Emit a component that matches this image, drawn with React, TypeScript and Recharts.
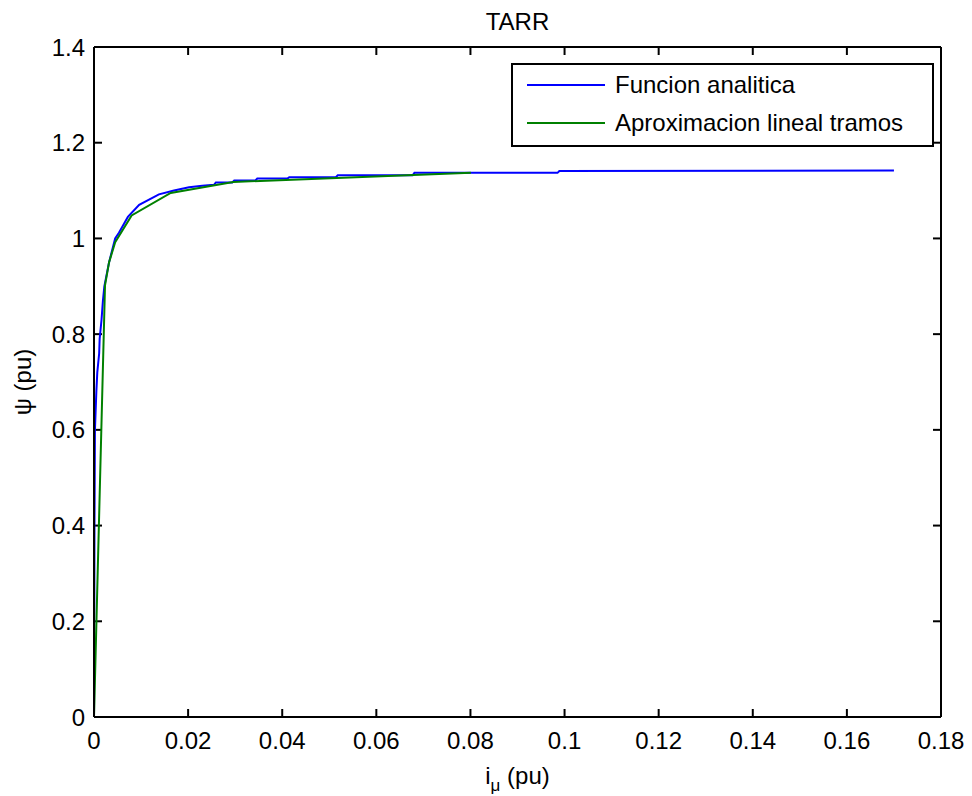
import React from 'react';
import { LineChart, Line, XAxis, YAxis, Legend, ReferenceLine } from 'recharts';

// i_mu (pu) / psi (pu) for the analytic curve (stair-stepped as in the plot)
const iMuAnalytic = [
  0, 0.00005, 0.0001, 0.0002, 0.0005, 0.0007, 0.0011, 0.0012, 0.0016, 0.0019,
  0.0022, 0.0032, 0.0045, 0.0053, 0.0072, 0.0096, 0.0138, 0.017, 0.0202, 0.023,
  0.0255, 0.0259, 0.0294, 0.0298, 0.0343, 0.0347, 0.0411, 0.0415, 0.0514, 0.0518,
  0.0677, 0.0681, 0.0985, 0.0989, 0.17,
];
const psiAnalytic = [
  0, 0.2, 0.4, 0.6, 0.68, 0.72, 0.76, 0.79, 0.83, 0.87,
  0.9, 0.95, 1.0, 1.012, 1.045, 1.07, 1.092, 1.1, 1.107, 1.11,
  1.112, 1.117, 1.117, 1.121, 1.121, 1.125, 1.125, 1.128, 1.128, 1.132,
  1.132, 1.137, 1.137, 1.141, 1.142,
];

// piecewise linear approximation
const iMuTramos = [0, 0.00234, 0.0032, 0.0045, 0.008, 0.0163, 0.0296, 0.0801];
const psiTramos = [0, 0.902, 0.95, 0.992, 1.048, 1.095, 1.118, 1.137];

const xTicks = [0, 0.02, 0.04, 0.06, 0.08, 0.1, 0.12, 0.14, 0.16, 0.18];
const yTicks = [0, 0.2, 0.4, 0.6, 0.8, 1, 1.2, 1.4];

const seriesNames = ['Funcion analitica', 'Aproximacion lineal tramos'];
const seriesColors = ['#0000ff', '#008000'];

const analyticData = iMuAnalytic.map((x, i) => ({ x, y: psiAnalytic[i] }));
const tramosData = iMuTramos.map((x, i) => ({ x, y: psiTramos[i] }));

const X_MAX = 0.18;
const Y_MAX = 1.4;
// inward tick lengths (~8px) in data units
const TICK_DX = 0.0017;
const TICK_DY = 0.0167;

const FONT = '"Liberation Sans", Arial, sans-serif';

const LegendBox = () => (
  <div
    style={{
      width: 423,
      height: 84,
      boxSizing: 'border-box',
      border: '2px solid #000',
      background: '#fff',
      fontFamily: FONT,
      fontSize: 24,
      color: '#000',
      position: 'relative',
    }}
  >
    {seriesNames.map((name, i) => (
      <div
        key={name}
        style={{ position: 'absolute', left: 14, top: i === 0 ? 5 : 43, height: 30, display: 'flex', alignItems: 'center' }}
      >
        <svg width={80} height={4} style={{ display: 'block' }}>
          <line x1={0} y1={2} x2={78} y2={2} stroke={seriesColors[i]} strokeWidth={2} />
        </svg>
        <span style={{ marginLeft: 8, whiteSpace: 'nowrap' }}>{name}</span>
      </div>
    ))}
  </div>
);

const TitleLabel = (props: any) => {
  const vb = props.viewBox || {};
  return (
    <text x={vb.x + vb.width / 2} y={vb.y - 17} textAnchor="middle" fontFamily={FONT} fontSize={24} fill="#000">
      TARR
    </text>
  );
};

const XTitle = (props: any) => {
  const vb = props.viewBox || {};
  return (
    <text x={vb.x + vb.width / 2} y={vb.y + 67} textAnchor="middle" fontFamily={FONT} fontSize={24} fill="#000">
      <tspan>i</tspan>
      <tspan dy={7} fontSize={17}>μ</tspan>
      <tspan dy={-7}> (pu)</tspan>
    </text>
  );
};

const YTitle = (props: any) => {
  const vb = props.viewBox || {};
  const cx = 31;
  const cy = vb.y + vb.height / 2;
  return (
    <text x={cx} y={cy} transform={`rotate(-90, ${cx}, ${cy})`} textAnchor="middle" fontFamily={FONT} fontSize={24} fill="#000">
      ψ (pu)
    </text>
  );
};

const axisLine = { stroke: '#000', strokeWidth: 2 };
const tickStyle = { fill: '#000', fontSize: 24, fontFamily: FONT };

export default function App() {
  return (
    <div style={{ position: 'absolute', left: 0, top: 0, width: 972, height: 796, background: '#fff' }}>
      <LineChart width={972} height={796} margin={{ top: 47, right: 31, bottom: 0, left: 0 }}>
        <XAxis
          type="number"
          dataKey="x"
          domain={[0, X_MAX]}
          ticks={xTicks}
          allowDataOverflow
          height={79}
          axisLine={axisLine}
          tickLine={false}
          tickSize={0}
          tickMargin={15}
          tick={tickStyle}
          label={<XTitle />}
        />
        <YAxis
          type="number"
          dataKey="y"
          domain={[0, Y_MAX]}
          ticks={yTicks}
          allowDataOverflow
          width={94}
          axisLine={axisLine}
          tickLine={false}
          tickSize={0}
          tickMargin={9}
          tick={tickStyle}
          label={<YTitle />}
        />
        {/* box: top and right edges */}
        <ReferenceLine y={Y_MAX} stroke="#000" strokeWidth={2} label={<TitleLabel />} />
        <ReferenceLine x={X_MAX} stroke="#000" strokeWidth={2} />
        {/* inward ticks on all four sides */}
        {xTicks.map((t) => (
          <ReferenceLine key={`xb${t}`} segment={[{ x: t, y: 0 }, { x: t, y: TICK_DY }]} stroke="#000" strokeWidth={2} />
        ))}
        {xTicks.map((t) => (
          <ReferenceLine key={`xt${t}`} segment={[{ x: t, y: Y_MAX }, { x: t, y: Y_MAX - TICK_DY }]} stroke="#000" strokeWidth={2} />
        ))}
        {yTicks.map((t) => (
          <ReferenceLine key={`yl${t}`} segment={[{ x: 0, y: t }, { x: TICK_DX, y: t }]} stroke="#000" strokeWidth={2} />
        ))}
        {yTicks.map((t) => (
          <ReferenceLine key={`yr${t}`} segment={[{ x: X_MAX, y: t }, { x: X_MAX - TICK_DX, y: t }]} stroke="#000" strokeWidth={2} />
        ))}
        <Legend
          layout="horizontal"
          verticalAlign="middle"
          align="center"
          content={<LegendBox />}
          wrapperStyle={{ left: 511, top: 63, width: 423, height: 84 }}
        />
        <Line
          data={analyticData}
          dataKey="y"
          name={seriesNames[0]}
          type="linear"
          stroke={seriesColors[0]}
          strokeWidth={2}
          dot={false}
          isAnimationActive={false}
        />
        <Line
          data={tramosData}
          dataKey="y"
          name={seriesNames[1]}
          type="linear"
          stroke={seriesColors[1]}
          strokeWidth={2}
          dot={false}
          isAnimationActive={false}
        />
      </LineChart>
    </div>
  );
}
